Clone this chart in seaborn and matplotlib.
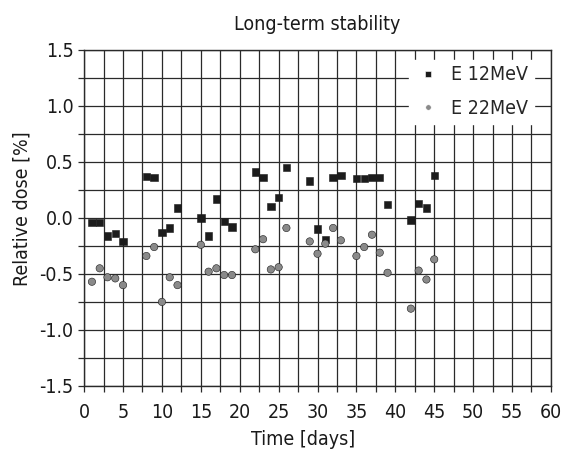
import matplotlib
matplotlib.use("Agg")
import matplotlib.pyplot as plt
from matplotlib.ticker import MultipleLocator
from matplotlib import font_manager
import seaborn as sns
import pandas as pd

days = [1, 2, 3, 4, 5, 8, 9, 10, 11, 12, 15, 16, 17, 18, 19, 22, 23, 24, 25, 26,
        29, 30, 31, 32, 33, 35, 36, 37, 38, 39, 42, 43, 44, 45]
e12 = [-0.04, -0.04, -0.16, -0.14, -0.21, 0.37, 0.36, -0.13, -0.09, 0.09,
       0.00, -0.16, 0.17, -0.03, -0.08, 0.41, 0.36, 0.10, 0.18, 0.45,
       0.33, -0.10, -0.19, 0.36, 0.38, 0.35, 0.35, 0.36, 0.36, 0.12,
       -0.02, 0.13, 0.09, 0.38]
e22 = [-0.57, -0.45, -0.53, -0.54, -0.60, -0.34, -0.26, -0.75, -0.53, -0.60,
       -0.24, -0.48, -0.45, -0.51, -0.51, -0.28, -0.19, -0.46, -0.44, -0.09,
       -0.21, -0.32, -0.23, -0.09, -0.20, -0.34, -0.26, -0.15, -0.31, -0.49,
       -0.81, -0.47, -0.55, -0.37]
series_names = ["E 12MeV", "E 22MeV"]

df = pd.concat([
    pd.DataFrame({"day": days, "dose": e12, "series": series_names[0]}),
    pd.DataFrame({"day": days, "dose": e22, "series": series_names[1]}),
])

sns.set_style("white")

# pick a narrow font if one is installed
fonts = font_manager.fontManager.ttflist
names = {f.name for f in fonts}
stretch = "normal"
if "Liberation Sans Narrow" in names:
    family = ["Liberation Sans Narrow", "DejaVu Sans"]
else:
    family = ["DejaVu Sans"]
    if any(f.name == "DejaVu Sans" and f.stretch == "condensed" for f in fonts):
        stretch = "condensed"
plt.rcParams["font.family"] = family
plt.rcParams["font.stretch"] = stretch
plt.rcParams["axes.unicode_minus"] = False

fig = plt.figure(figsize=(5.61, 4.54), dpi=100)
ax = fig.add_axes([0.150, 0.150, 0.832, 0.740])

sns.scatterplot(data=df, x="day", y="dose", hue="series", style="series",
                markers={"E 12MeV": "s", "E 22MeV": "o"},
                palette={"E 12MeV": "#1c1c1c", "E 22MeV": "#8a8a8a"},
                s=28, linewidth=0.4, ax=ax, zorder=3)
for coll, ec in zip(ax.collections, ["#1c1c1c", "#a0a0a0"]):
    coll.set_edgecolor(ec)

ax.set_xlim(0, 60)
ax.set_ylim(-1.5, 1.5)
ax.xaxis.set_major_locator(MultipleLocator(5))
ax.xaxis.set_minor_locator(MultipleLocator(2.5))
ax.yaxis.set_major_locator(MultipleLocator(0.5))
ax.yaxis.set_minor_locator(MultipleLocator(0.25))
ax.grid(True, which="both", color="#2a2a2a", linewidth=0.9)
ax.set_axisbelow(True)
for sp in ax.spines.values():
    sp.set_color("#2a2a2a")
    sp.set_linewidth(1.0)
ax.tick_params(which="both", direction="out", length=4, width=0.9,
               color="#2a2a2a", bottom=True, left=True, labelsize=14,
               labelcolor="#1a1a1a")
ax.tick_params(axis="x", pad=8)
ax.set_xlabel("Time [days]", fontsize=14, color="#1a1a1a")
ax.set_ylabel("Relative dose [%]", fontsize=14, color="#1a1a1a")
ax.xaxis.set_label_coords(0.468, -0.13)
ax.yaxis.set_label_coords(-0.112, 0.527)
ax.set_title("Long-term stability", fontsize=14, color="#1a1a1a", pad=14)

leg = ax.legend(loc="upper right", bbox_to_anchor=(0.985, 1.0), frameon=True,
                fontsize=14, markerscale=0.75, handletextpad=0.5,
                handlelength=1.4, borderpad=0.3, labelspacing=0.75,
                fancybox=False)
leg.get_frame().set_edgecolor("white")
leg.get_frame().set_facecolor("white")
leg.get_frame().set_alpha(1.0)
leg.set_title(None)

fig.savefig("out.png", dpi=100)
